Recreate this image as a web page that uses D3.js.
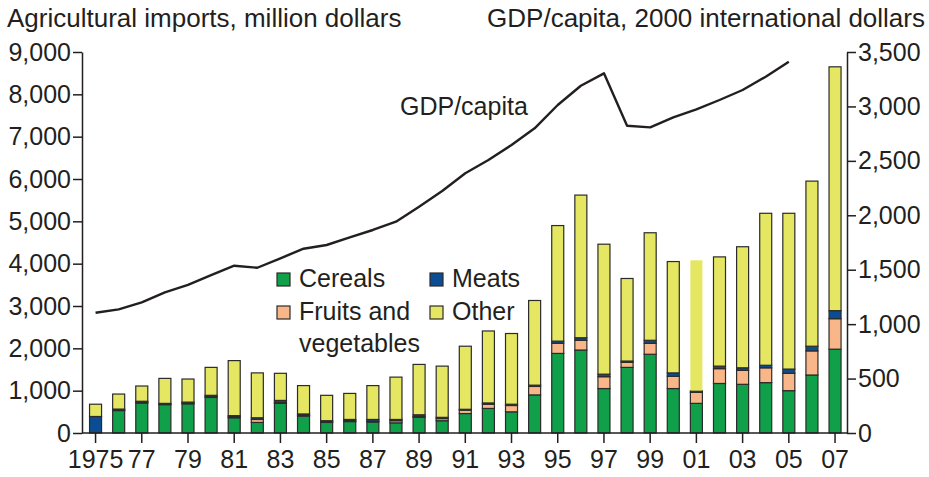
<!DOCTYPE html>
<html>
<head>
<meta charset="utf-8">
<script src="https://cdn.jsdelivr.net/npm/d3@7"></script>
<style>
  html, body { margin: 0; padding: 0; background: #fff; }
  svg text { font-family: "Liberation Sans", Arial, Helvetica, sans-serif; fill: #231f20; }
</style>
</head>
<body>
<div id="chart"></div>
<script>
// Agricultural imports by category (bars, left axis) + GDP/capita (line, right axis)

const years = d3.range(1975, 2008);
const cereals = [0, 530, 710, 670, 690, 840, 360, 250, 700, 400, 250, 270, 260, 240, 370, 290, 460, 580, 500, 900,
  1880, 1960, 1050, 1550, 1860, 1050, 700, 1170, 1150, 1190, 1000, 1370, 1980];
const fruits = [0, 10, 10, 10, 10, 20, 20, 70, 20, 20, 15, 20, 20, 50, 20, 50, 80, 100, 150, 200,
  240, 230, 280, 120, 260, 290, 260, 350, 330, 350, 410, 570, 720];
const meats = [390, 25, 30, 20, 30, 30, 30, 40, 50, 30, 25, 30, 40, 30, 40, 30, 20, 30, 30, 30,
  50, 60, 60, 30, 70, 80, 40, 60, 60, 60, 100, 110, 190];
const other = [290, 355, 360, 590, 545, 660, 1300, 1060, 640, 670, 600, 615, 800, 1000, 1190, 1210, 1490, 1700, 1670, 2000,
  2730, 3370, 3070, 1950, 2540, 2630, 3080, 2580, 2860, 3590, 3680, 3900, 5760];
const gdp = [1105, 1136, 1200, 1292, 1360, 1451, 1537, 1518, 1605, 1693, 1727, 1798, 1865, 1941, 2079, 2223,
  2386, 2508, 2646, 2799, 3013, 3190, 3304, 2823, 2808, 2900, 2973, 3059, 3151, 3273, 3411, null, null];

const leftTicks = d3.range(0, 9001, 1000);
const rightTicks = d3.range(0, 3501, 500);
const yearTicks = years.filter(y => y % 2 === 1);

const keys = ["cereals", "fruits", "meats", "other"];
const colors = { cereals: "#11a04a", fruits: "#f9b689", meats: "#0b4c93", other: "#e5e762" };
const legendItems = [
  { key: "cereals", lines: ["Cereals"], col: 0, row: 0 },
  { key: "meats", lines: ["Meats"], col: 1, row: 0 },
  { key: "fruits", lines: ["Fruits and", "vegetables"], col: 0, row: 1 },
  { key: "other", lines: ["Other"], col: 1, row: 1 }
];

const rows = years.map((y, i) => ({
  year: y, cereals: cereals[i], fruits: fruits[i], meats: meats[i], other: other[i], gdp: gdp[i]
}));

// ---- layout ----
const W = 929, H = 477;
const FS = 25;
const axL = 82, axR = 847, yTop = 52, yBase = 433;

const svg = d3.select("#chart").append("svg").attr("width", W).attr("height", H);

const x = d3.scaleBand().domain(years).range([84, 846.6]).paddingInner(0.48).paddingOuter(0.24);
const yL = d3.scaleLinear().domain([0, 9000]).range([yBase, yTop]);
const yR = d3.scaleLinear().domain([0, 3500]).range([yBase, yTop]);

// titles
svg.append("text").attr("x", 7).attr("y", 27).attr("font-size", 26)
  .text("Agricultural imports, million dollars");
svg.append("text").attr("x", 925).attr("y", 27).attr("font-size", 26).attr("text-anchor", "end")
  .text("GDP/capita, 2000 international dollars");

// stacked bars
const stacked = d3.stack().keys(keys)(rows);
svg.append("g").selectAll("g").data(stacked).join("g")
  .attr("fill", s => colors[s.key])
  .each(function(s) {
    d3.select(this).selectAll("rect").data(s).join("rect")
      .attr("x", d => x(d.data.year))
      .attr("width", x.bandwidth())
      .attr("y", d => yL(d[1]))
      .attr("height", d => yL(d[0]) - yL(d[1]))
      .attr("stroke", d => (s.key === "other" && d.data.year === 2001) ? "none" : "#2b2b2b")
      .attr("stroke-width", 1.2);
  });

// GDP line
const line = d3.line()
  .defined(d => d.gdp != null)
  .x(d => x(d.year) + x.bandwidth() / 2)
  .y(d => yR(d.gdp));
svg.append("path").datum(rows)
  .attr("d", line)
  .attr("fill", "none")
  .attr("stroke", "#231f20")
  .attr("stroke-width", 2.4)
  .attr("stroke-linejoin", "round");

svg.append("text").attr("x", 400).attr("y", 115).attr("font-size", FS).text("GDP/capita");

// left axis
const gl = svg.append("g").attr("transform", `translate(${axL},0)`)
  .call(d3.axisLeft(yL).tickValues(leftTicks).tickSize(9).tickSizeOuter(0).tickPadding(2)
    .tickFormat(d3.format(",")));
// right axis
const gr = svg.append("g").attr("transform", `translate(${axR},0)`)
  .call(d3.axisRight(yR).tickValues(rightTicks).tickSize(9).tickSizeOuter(0).tickPadding(2)
    .tickFormat(d3.format(",")));
// bottom axis
const gb = svg.append("g").attr("transform", `translate(0,${yBase})`)
  .call(d3.axisBottom(x).tickValues(yearTicks).tickSize(10).tickPadding(7)
    .tickFormat(y => y === 1975 ? "1975" : String(y).slice(2)));
gb.select(".domain").remove();
svg.append("line").attr("x1", axL).attr("x2", axR).attr("y1", yBase).attr("y2", yBase)
  .attr("stroke", "#231f20").attr("stroke-width", 1.5);

[gl, gr, gb].forEach(g => {
  g.selectAll("text").attr("font-size", FS).style("fill", "#231f20");
  g.selectAll("line, path").attr("stroke", "#231f20").attr("stroke-width", 1.5);
  g.attr("font-family", null);
});

// legend
const lg = svg.append("g").attr("transform", "translate(277,273)");
const items = lg.selectAll("g").data(legendItems).join("g")
  .attr("transform", d => `translate(${d.col * 153},${d.row * 33})`);
items.append("rect").attr("width", 13).attr("height", 13)
  .attr("fill", d => colors[d.key]).attr("stroke", "#2b2b2b").attr("stroke-width", 1.2);
items.each(function(d) {
  const t = d3.select(this).append("text").attr("x", 22).attr("y", 13.5).attr("font-size", FS);
  d.lines.forEach((s, i) => t.append("tspan").attr("x", 22).attr("dy", i ? 32 : 0).text(s));
});
</script>
</body>
</html>
